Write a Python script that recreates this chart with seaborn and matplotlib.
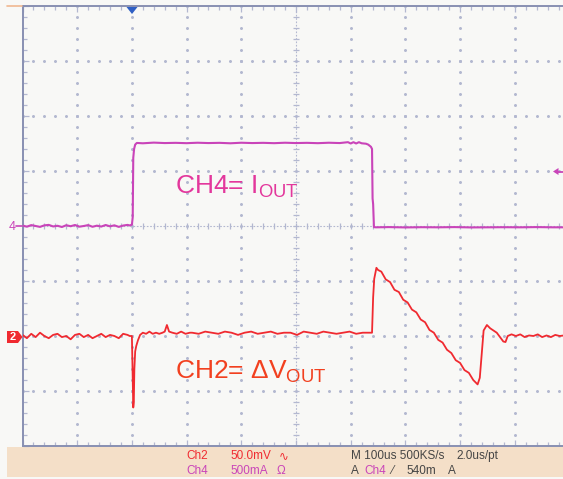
import numpy as np
import pandas as pd
import matplotlib
matplotlib.use("Agg")
import matplotlib.pyplot as plt
import seaborn as sns
from matplotlib.ticker import MultipleLocator
from matplotlib.patches import Rectangle, Polygon
from matplotlib.lines import Line2D

# ---------------- data (time in us relative to trigger) ----------------
ch4_t = [-200, -192, -184, -176, -168, -160, -152, -144, -136, -128, -120, -112, -104,
         -96, -88, -80, -72, -64, -56, -48, -40, -32, -24, -16, -8, -4,
         0, 1.5, 2.5, 4, 6, 9,
         20, 40, 60, 80, 100, 120, 140, 160, 180, 200, 220, 240, 260, 280, 300, 320,
         340, 360, 380, 395, 400, 405, 410, 415, 420, 428, 432, 437, 439, 440, 441, 442.5,
         446, 470, 500, 530, 560, 590, 620, 650, 680, 710, 740, 770, 800]
ch4_i = [0.004, -0.006, 0.008, 0.0, -0.008, 0.006, 0.010, -0.004, 0.002, -0.009, 0.007, -0.002, 0.009,
         -0.006, 0.0, 0.008, -0.007, 0.003, -0.005, 0.009, -0.003, 0.006, -0.008, 0.004, 0.010, 0.005,
         0.012, 0.08, 0.62, 0.70, 0.74, 0.755,
         0.752, 0.758, 0.754, 0.756, 0.753, 0.757, 0.754, 0.756, 0.752, 0.757, 0.754, 0.756, 0.753, 0.757, 0.754, 0.756,
         0.753, 0.757, 0.754, 0.762, 0.750, 0.762, 0.750, 0.762, 0.752, 0.748, 0.740, 0.720, 0.700, 0.250, 0.200, -0.010,
         -0.012, -0.010, -0.013, -0.011, -0.012, -0.010, -0.013, -0.012, -0.011, -0.012, -0.010, -0.012, -0.012]

ch2_t = [-200, -192, -184, -176, -168, -160, -152, -144, -136, -128, -120, -112, -104,
         -96, -88, -80, -72, -64, -56, -48, -40, -32, -24, -16, -8, -4,
         0, 1, 2.5, 3.5, 4.5, 6, 8, 11, 15, 20, 26, 32, 38, 44, 50, 56, 60, 64, 68, 74, 82, 90, 98, 106,
         110, 122, 134, 146, 158, 170, 182, 194, 206, 218, 230, 242, 254, 266, 278, 290,
         302, 314, 326, 338, 350, 362, 374, 386, 398, 410, 422, 434,
         439, 441, 443, 447, 450,
         456, 464, 472, 480, 488, 496, 504, 512, 520, 528, 536, 544, 552, 560, 568, 576,
         584, 592, 600, 608, 616, 624, 632,
         636, 639, 643, 649, 655, 661, 667, 673, 679, 683, 687, 694, 702, 710, 718, 726,
         734, 742, 750, 758, 766, 774, 782, 790, 800]
ch2_v = [1, -2, 2, -1, 3, 0, -2, 1, 2, -1, 0, -3, 1,
         2, -1, 1, -2, 0, 2, -1, 1, 0, -2, 2, 1, 0,
         0, -25, -65, -60, -30, -14, -9, -4, 1, 3, 2, 4, 2, 3, 2, 3, 4, 10, 4, 3, 2, 4, 2, 3,
         3, 2, 4, 3, 2, 4, 3, 1, 3, 4, 2, 3, 4, 2, 3, 3,
         1, 4, 3, 2, 4, 3, 2, 3, 4, 2, 3, 3,
         3, 35, 52, 62, 60,
         58.5, 51.5, 49, 42, 40, 33, 30.5, 24, 21.5, 15, 12.5, 5.5, 3, -3.5, -6, -12.5,
         -15.5, -22, -24.5, -31, -33.5, -40, -44,
         -38, -20, 5, 10, 7, 5, 3, -1, -5, -5.5, 0, 1.5, 0, 1.5, -1, 0.5,
         0, 1.5, -1, 0.5, -1, 1, 0, 0.5, 0]

# ---------------- figure ----------------
sns.set_theme(style="white")
plt.rcParams['font.family'] = ['Liberation Sans', 'DejaVu Sans']
plt.rcParams['mathtext.fontset'] = 'custom'
plt.rcParams['mathtext.rm'] = 'Liberation Sans'

W, H = 563, 479
BG = '#f8f8f6'
fig = plt.figure(figsize=(W / 100, H / 100), dpi=100, facecolor=BG)


def fx(px):
    return px / W


def fy(py):
    return 1 - py / H


ax = fig.add_axes([fx(22.5), fy(446), 547 / W, 440 / H])
ax.set_facecolor(BG)
ax.set_xlim(-200, 800)
ax.set_ylim(-2, 2)          # CH4: 500 mA/div
ax2 = ax.twinx()
ax2.set_ylim(-100, 300)     # CH2: 50 mV/div, ground 2 div below centre

gcol = '#b3b8d0'
# graticule dots
ys = np.arange(-2, 2.001, 0.1)
for xv in np.arange(-100, 800, 100):
    if xv == 300:
        continue
    ax.plot(np.full_like(ys, xv), ys, ls='none', marker='o', ms=1.15, color=gcol, zorder=1)
xs = np.arange(-200, 801, 20).astype(float)
for yv in np.arange(-1.5, 2.0, 0.5):
    if abs(yv) < 1e-9:
        continue
    ax.plot(xs, np.full_like(xs, yv), ls='none', marker='o', ms=1.15, color=gcol, zorder=1)
# centre cross
ax.axvline(300, color=gcol, lw=0.8, ls=(0, (1.5, 1.5)), zorder=1)
ax.axhline(0, color=gcol, lw=0.8, ls=(0, (1.5, 1.5)), zorder=1)
ax.plot(xs, np.zeros_like(xs), ls='none', marker='|', ms=5, mew=0.9, color=gcol, zorder=1)
ax.plot(np.full_like(ys, 300), ys, ls='none', marker='_', ms=5, mew=0.9, color=gcol, zorder=1)

# border ticks
ax.xaxis.set_major_locator(MultipleLocator(100))
ax.xaxis.set_minor_locator(MultipleLocator(20))
ax.yaxis.set_major_locator(MultipleLocator(0.5))
ax.yaxis.set_minor_locator(MultipleLocator(0.1))
ax.tick_params(which='both', direction='in', color=gcol, width=0.9,
               top=True, bottom=True, left=True, right=False,
               labelbottom=False, labelleft=False, labeltop=False)
ax.tick_params(which='major', length=4)
ax.tick_params(which='minor', length=3)
for s in ['left', 'bottom', 'top']:
    ax.spines[s].set_color('#8890b2')
    ax.spines[s].set_linewidth(1.4)
ax.spines['right'].set_visible(False)
for s in ax2.spines.values():
    s.set_visible(False)
ax2.set_yticks([])
ax2.tick_params(right=False, labelright=False)

# traces
ch4 = pd.DataFrame({'t': ch4_t, 'i': ch4_i})
ch2 = pd.DataFrame({'t': ch2_t, 'v': ch2_v})
sns.lineplot(data=ch4, x='t', y='i', ax=ax, color='#c944b9', lw=1.5,
             estimator=None, sort=False, zorder=3)
sns.lineplot(data=ch2, x='t', y='v', ax=ax2, color='#f02a30', lw=1.3,
             estimator=None, sort=False, zorder=3)
for a in (ax, ax2):
    a.set_xlabel('')
    a.set_ylabel('')

# annotations
fig.text(fx(175), fy(194), r'CH4= I$_{\mathrm{OUT}}$', color='#e3379c', fontsize=19,
         ha='left', va='baseline')
fig.text(fx(175), fy(378.5), r'CH2= ΔV$_{\mathrm{OUT}}$', color='#f2401f', fontsize=19,
         ha='left', va='baseline')

# channel markers
fig.text(fx(12), fy(226.5), '4', color='#c944b9', fontsize=9, ha='center', va='center')
fig.add_artist(Line2D([fx(16), fx(22)], [fy(226), fy(226)], color='#c944b9', lw=1.2))
fig.add_artist(Polygon([(fx(7), fy(331)), (fx(18), fy(331)), (fx(22.5), fy(337)),
                        (fx(18), fy(343)), (fx(7), fy(343))], closed=True,
                       facecolor='#f02a30', edgecolor='none'))
fig.text(fx(12.5), fy(337.5), '2', color='white', fontsize=8, ha='center', va='center',
         fontweight='bold')
fig.add_artist(Polygon([(fx(126.5), fy(7)), (fx(137.5), fy(7)), (fx(132), fy(14))],
                       closed=True, facecolor='#2f5fc4', edgecolor='none'))
fig.add_artist(Polygon([(fx(553), fy(171.5)), (fx(558.5), fy(168)), (fx(558.5), fy(175))],
                       closed=True, facecolor='#c944b9', edgecolor='none'))
fig.add_artist(Line2D([fx(556), fx(563)], [fy(171.5), fy(171.5)], color='#c944b9', lw=1.3))
fig.add_artist(Line2D([fx(7), fx(22)], [fy(5.5), fy(5.5)], color='#f0b890', lw=1.2))

# status bar
fig.add_artist(Rectangle((fx(7), fy(477)), fx(563) - fx(7), fy(447) - fy(477),
                         facecolor='#f4dfc8', edgecolor='none', zorder=0))
fs = 8.5
r1, r2 = fy(456), fy(471.5)
gray = '#454545'
fig.text(fx(186.5), r1, 'Ch2', color='#f02a30', fontsize=fs, va='center')
fig.text(fx(230.5), r1, '50.0mV', color='#f02a30', fontsize=fs, va='center')
fig.text(fx(278.5), r1, '∿', color='#f02a30', fontsize=fs, va='center')
fig.text(fx(186.5), r2, 'Ch4', color='#c944b9', fontsize=fs, va='center')
fig.text(fx(230.5), r2, '500mA', color='#c944b9', fontsize=fs, va='center')
fig.text(fx(277), r2, 'Ω', color='#c944b9', fontsize=fs, va='center')
fig.text(fx(351), r1, 'M 100us 500KS/s', color=gray, fontsize=fs, va='center')
fig.text(fx(456.5), r1, '2.0us/pt', color=gray, fontsize=fs, va='center')
fig.text(fx(351), r2, 'A', color=gray, fontsize=fs, va='center')
fig.text(fx(364.5), r2, 'Ch4', color='#c944b9', fontsize=fs, va='center')
fig.text(fx(391), r2, '⁄', color=gray, fontsize=fs, va='center')
fig.text(fx(406), r2, '540m', color=gray, fontsize=fs, va='center')
fig.text(fx(448), r2, 'A', color=gray, fontsize=fs, va='center')

fig.savefig('out.png', dpi=100, facecolor=BG)
